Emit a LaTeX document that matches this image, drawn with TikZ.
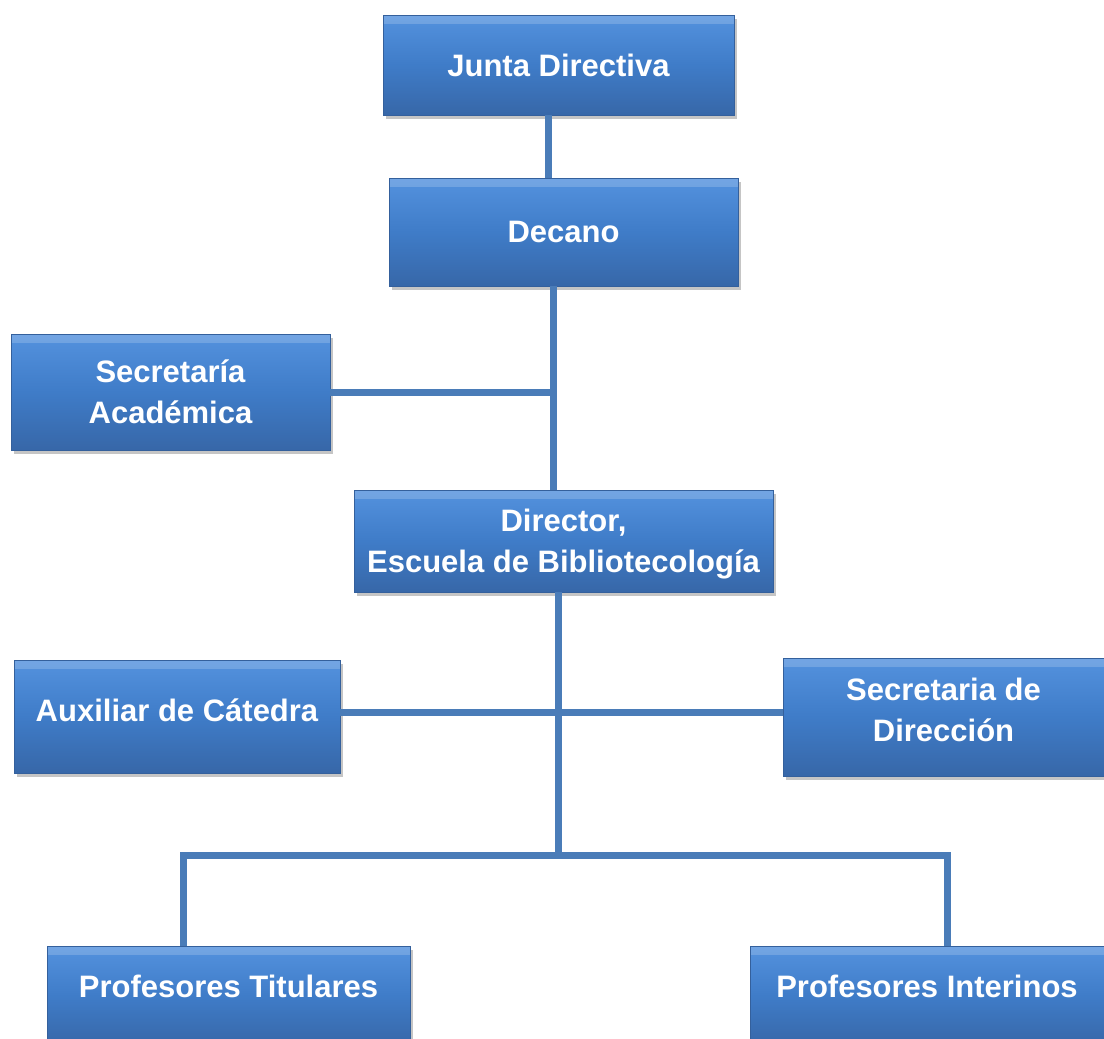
\documentclass[tikz,border=0pt]{standalone}
\usepackage{fontspec}
\setmainfont{Liberation Sans}
\usetikzlibrary{shadows}
\definecolor{linkblue}{RGB}{74,124,184}
\definecolor{boxtop}{RGB}{84,146,222}
\definecolor{boxmid}{RGB}{63,124,200}
\definecolor{boxbot}{RGB}{55,103,168}
\definecolor{boxedge}{RGB}{52,96,156}
\tikzset{
  orgbox/.style={rectangle, draw=boxedge, line width=0.8pt,
    top color=boxtop, bottom color=boxbot, middle color=boxmid,
    text=white, font=\fontsize{31}{40.5}\selectfont\bfseries, align=center,
    inner sep=0pt,
    drop shadow={opacity=0.45, shadow xshift=3pt, shadow yshift=-4pt},
    path picture={\fill[white,opacity=0.18] (path picture bounding box.north west) rectangle ([yshift=-9pt]path picture bounding box.north east);}},
  link/.style={draw=linkblue, line width=7pt, line join=miter}
}
\begin{document}
\begin{tikzpicture}[x=1pt,y=-1pt]
\useasboundingbox[fill=white] (0,0) rectangle (1104,1039);
% nodes
\node[orgbox, minimum width=351pt, minimum height=100pt] (junta) at (558.5,65) {Junta Directiva};
\node[orgbox, minimum width=349pt, minimum height=108pt] (decano) at (563.5,232) {Decano};
\node[orgbox, minimum width=319pt, minimum height=116pt] (secacad) at (170.5,392) {Secretaría\\Académica};
\node[orgbox, minimum width=419pt, minimum height=102pt, text depth=0pt] (director) at (563.5,541) {Director,\\Escuela de Bibliotecología};
\node[orgbox, minimum width=326pt, minimum height=113pt, text depth=12pt] (auxiliar) at (177,716.5) {Auxiliar de Cátedra};
\node[orgbox, minimum width=321pt, minimum height=118pt, text depth=14pt] (secdir) at (943.5,717) {Secretaria de\\Dirección};
\node[orgbox, minimum width=363pt, minimum height=100pt, text height=22pt, text depth=20pt] (proftit) at (228.5,996) {Profesores Titulares};
\node[orgbox, minimum width=354pt, minimum height=100pt, text height=22pt, text depth=20pt] (profint) at (927,996) {Profesores Interinos};
% helper coordinates
\coordinate (s1) at (548,0);
\coordinate (s2) at (553,0);
\coordinate (s3) at (558,0);
\coordinate (bus) at (558,855);
\coordinate (tl) at (183,0);
\coordinate (tr) at (947,0);
% connectors
\draw[link] (junta.south -| s1) -- (decano.north -| s1);
\draw[link] (decano.south -| s2) -- (director.north -| s2);
\draw[link] (secacad.east) -- (secacad.east -| s2);
\draw[link] (director.south -| s3) -- (bus);
\draw[link] ([yshift=4.5pt]auxiliar.east) -- ([yshift=4.5pt]auxiliar.east -| secdir.west);
\draw[link] (proftit.north -| tl) -- (tl |- bus) -- (tr |- bus) -- (profint.north -| tr);
\end{tikzpicture}
\end{document}
